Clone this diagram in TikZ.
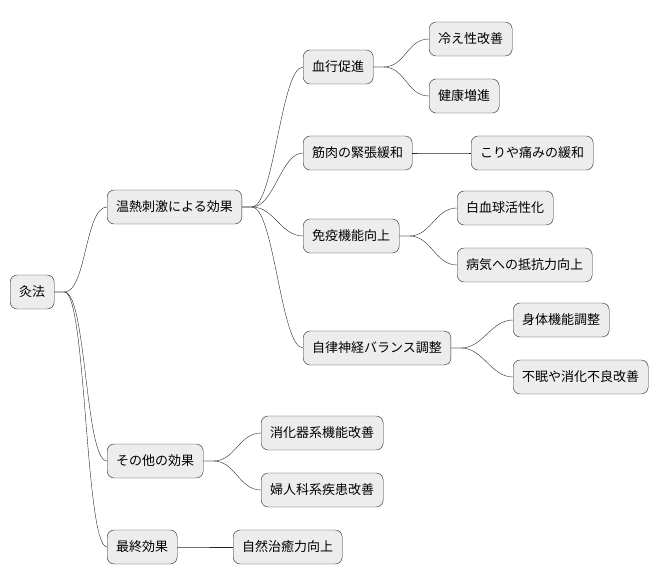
\documentclass[tikz,border=0pt]{standalone}
\usepackage{fontspec}
\setmainfont{Noto Sans CJK JP}
\tikzset{
  topic/.style={rectangle, rounded corners=7pt, draw=black!85, fill=black!7,
    minimum height=34pt, inner xsep=9pt, anchor=west, font=\fontsize{13}{15}\selectfont},
  link/.style={draw=black!85, thin}
}
\begin{document}
\begin{tikzpicture}[x=1pt, y=-1pt]
\useasboundingbox (0,0) rectangle (670,583);

% Nodes
\node (root) [topic] at (10,292) {灸法};
\node (heat) [topic] at (107,207) {温熱刺激による効果};
\node (other) [topic] at (107,461) {その他の効果};
\node (final) [topic] at (107,547) {最終効果};

\node (blood) [topic] at (303,67) {血行促進};
\node (cold) [topic] at (429,39) {冷え性改善};
\node (health) [topic] at (429,96) {健康増進};
\node (muscle) [topic] at (303,153) {筋肉の緊張緩和};
\node (stiff) [topic] at (471,153) {こりや痛みの緩和};
\node (immune) [topic] at (303,236) {免疫機能向上};
\node (wbc) [topic] at (457,208) {白血球活性化};
\node (resist) [topic] at (457,265) {病気への抵抗力向上};
\node (nerve) [topic] at (303,348) {自律神経バランス調整};
\node (body) [topic] at (513,320) {身体機能調整};
\node (sleep) [topic] at (513,377) {不眠や消化不良改善};

\node (digest) [topic] at (261,433) {消化器系機能改善};
\node (gyne) [topic] at (261,490) {婦人科系疾患改善};
\node (heal) [topic] at (233,547) {自然治癒力向上};

% Connectors
\foreach \a/\b in {root/heat, root/other, root/final,
    heat/blood, heat/muscle, heat/immune, heat/nerve,
    blood/cold, blood/health, muscle/stiff, immune/wbc, immune/resist,
    nerve/body, nerve/sleep, other/digest, other/gyne, final/heal}
  \draw [link] (\a.east) -- ++(10,0) .. controls +(22,0) and +(-22,0) .. (\b.west);

\end{tikzpicture}
\end{document}
